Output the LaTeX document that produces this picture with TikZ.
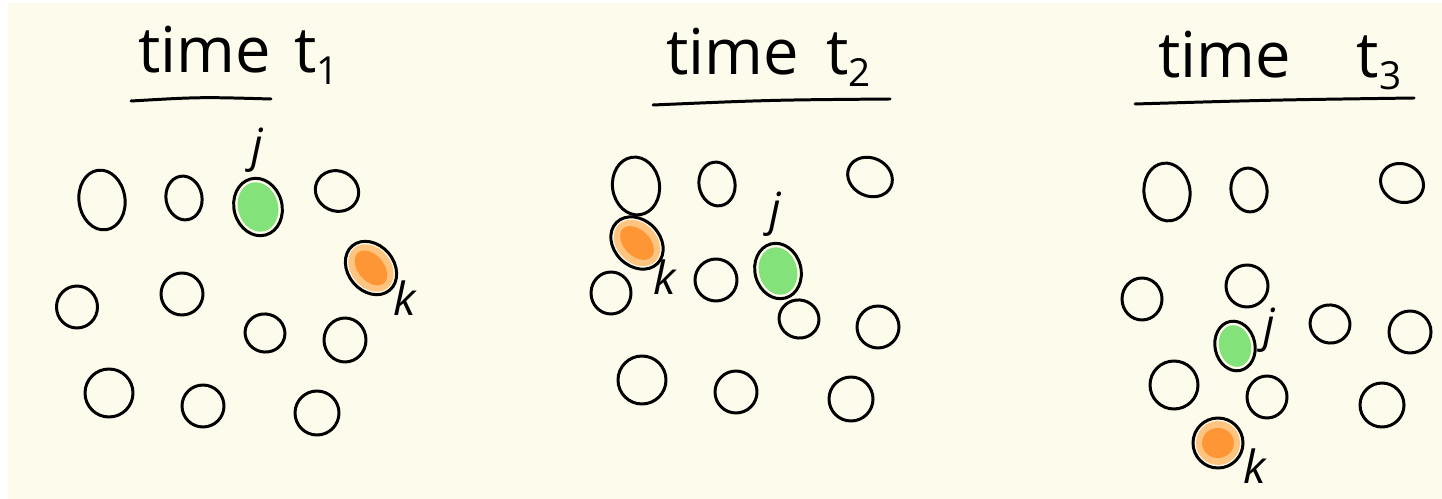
\documentclass[tikz,border=0pt]{standalone}
\usepackage{fontspec}
\setmainfont{Open Sans}
\definecolor{paper}{HTML}{FDFBEC}
\definecolor{blobgreen}{HTML}{84E27A}
\definecolor{blobdark}{HTML}{FF9636}
\definecolor{bloblight}{HTML}{FFC47F}
\newcommand\tsub[1]{\raisebox{-0.35ex}{\fontsize{22}{24}\selectfont #1}}
\begin{document}
\begin{tikzpicture}[x=0.02cm, y=-0.02cm, line width=1.7pt, line cap=round, line join=round,
    ball/.style={draw=black},
    title/.style={anchor=base west, inner sep=0pt, font=\fontsize{36}{42}\selectfont},
    tag/.style={inner sep=0pt, font=\fontsize{26}{30}\selectfont\itshape}]
  % --- paper ---
  \useasboundingbox (0,0) rectangle (1442,499);
  \fill[white] (0,0) rectangle (1442,499);
  \fill[paper] (8,3) rectangle (1442,499);
  % --- titles ---
  \node[title] (title1) at (137,73) {time\hspace{4pt} t\tsub{1}};
  \node[title] (title2) at (665,75) {time\hspace{6pt} t\tsub{2}};
  \node[title] (title3) at (1157,78) {time\hspace{28pt} t\tsub{3}};
  \draw (131,101) .. controls (200,97) .. (271,99);
  \draw (653,105) .. controls (770,100) .. (890,99);
  \draw (1135,104) .. controls (1270,100) .. (1414,98);
  % --- plain particles (x/y/rx/ry/tilt) ---
  \foreach \x/\y/\a/\b/\r in {102/200/23/30/8, 184/198/18/22/10, 337/191/22/20/-25,
      77/307/20.5/21/0, 182/294/21/21/0, 265/333/20/19/-15, 345/340/21/22/0,
      109/393/24/24/0, 203/406/21/21/0, 317/413/22/22/0,
      636/186/23.5/29/8, 717/184/18/22/10, 870/177/23/19/-25,
      611/293/20/21/0, 716/280/21/21/0, 799/319/20/19/-15, 878/327/21/21/0,
      642/380/24/24/0, 736/392/21/21/0, 851/399/22/22/0,
      1167/192/23/29/8, 1249/190/18/22/10, 1402/183/22/19/-25,
      1142/299/20/21/0, 1247/286/21/21/0, 1330/324/20/19/-15, 1410/332/21/21/0,
      1174/385/24/24/0, 1267/397/20/21/0, 1382/405/22/22/0}
    \draw[ball, rotate around={\r:(\x,\y)}] (\x,\y) ellipse [x radius=\a, y radius=\b];
  % --- particle j (green) ---
  \foreach \x/\y/\a/\b/\r in {258/207/24/29/15, 778/271/23/28/15, 1235/346/20/25/12} {
    \fill[blobgreen, rotate around={\r:(\x,\y)}] (\x,\y) ellipse [x radius=\a-4, y radius=\b-4];
    \draw[ball, rotate around={\r:(\x,\y)}] (\x,\y) ellipse [x radius=\a, y radius=\b];
  }
  % --- particle k (orange) ---
  \foreach \x/\y/\a/\b/\r in {371/268/29/23/-50, 637/243/29/23/-45, 1218/443/25/25/0} {
    \fill[bloblight, rotate around={\r:(\x,\y)}] (\x,\y) ellipse [x radius=\a-3, y radius=\b-3];
    \fill[blobdark, rotate around={\r:(\x,\y)}] (\x,\y) ellipse [x radius=\a-9, y radius=\b-10];
    \draw[ball, rotate around={\r:(\x,\y)}] (\x,\y) ellipse [x radius=\a, y radius=\b];
  }
  % --- labels ---
  \node[tag] (j1) at (257,150) {j};
  \node[tag] (k1) at (405,298) {k};
  \node[tag] (j2) at (775,214) {j};
  \node[tag] (k2) at (665,277) {k};
  \node[tag] (j3) at (1269,330) {j};
  \node[tag] (k3) at (1255,466) {k};
\end{tikzpicture}
\end{document}
